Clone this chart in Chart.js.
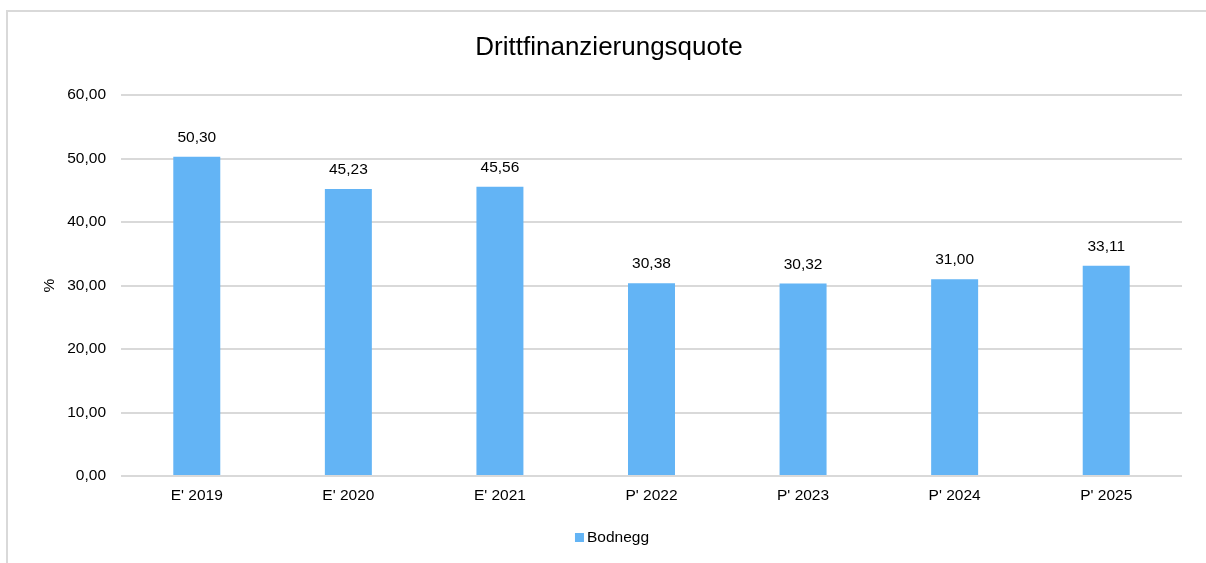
<!DOCTYPE html>
<html>
<head>
<meta charset="utf-8">
<script src="https://cdn.jsdelivr.net/npm/chart.js@4.4.1/dist/chart.umd.min.js"></script>
<style>
  html, body { margin: 0; padding: 0; background: #ffffff; overflow: hidden; }
  #wrap { position: relative; width: 1206px; height: 563px; }
</style>
</head>
<body>
<div id="wrap"><canvas id="chart" width="1206" height="563"></canvas></div>
<script>
// Chart content
const chartTitle = 'Drittfinanzierungsquote';
const yAxisTitle = '%';
const categories = ["E' 2019", "E' 2020", "E' 2021", "P' 2022", "P' 2023", "P' 2024", "P' 2025"];
const seriesName = 'Bodnegg';
const bodneggValues = [50.30, 45.23, 45.56, 30.38, 30.32, 31.00, 33.11];
const yTickValues = [0, 10, 20, 30, 40, 50, 60];

const FONT = "'Liberation Sans', Arial, Helvetica, sans-serif";
const BAR_COLOR = '#63b4f5';
const GRID_COLOR = '#d9d9d9';
const TEXT_COLOR = '#000000';

// German number format with two decimals: 50.3 -> "50,30"
const fmt = v => Number(v).toFixed(2).replace('.', ',');

// Light frame around the whole chart
const framePlugin = {
  id: 'frame',
  beforeDraw(chart) {
    const ctx = chart.ctx;
    ctx.save();
    ctx.strokeStyle = GRID_COLOR;
    ctx.lineWidth = 2;
    ctx.beginPath();
    ctx.moveTo(7, chart.height + 5);
    ctx.lineTo(7, 11);
    ctx.lineTo(chart.width + 5, 11);
    ctx.stroke();
    ctx.restore();
  }
};

// Value labels above every bar
const valueLabelPlugin = {
  id: 'valueLabels',
  afterDatasetsDraw(chart) {
    const ctx = chart.ctx;
    ctx.save();
    ctx.font = '15.5px ' + FONT;
    ctx.fillStyle = TEXT_COLOR;
    ctx.textAlign = 'center';
    ctx.textBaseline = 'alphabetic';
    chart.data.datasets.forEach((ds, di) => {
      chart.getDatasetMeta(di).data.forEach((bar, i) => {
        ctx.fillText(fmt(ds.data[i]), bar.x, bar.y - 15);
      });
    });
    ctx.restore();
  }
};

// Legend centred below the axis: small square marker followed by the series name
const legendPlugin = {
  id: 'bottomLegend',
  afterDraw(chart) {
    const ctx = chart.ctx;
    ctx.save();
    ctx.font = '15.5px ' + FONT;
    const box = 9, gap = 3;
    const baseline = 542;
    chart.data.datasets.forEach(ds => {
      const tw = ctx.measureText(ds.label).width;
      const total = box + gap + tw;
      const x0 = 612 - total / 2;
      ctx.fillStyle = ds.backgroundColor;
      ctx.fillRect(x0, baseline - box, box, box);
      ctx.fillStyle = TEXT_COLOR;
      ctx.textAlign = 'left';
      ctx.textBaseline = 'alphabetic';
      ctx.fillText(ds.label, x0 + box + gap, baseline);
    });
    ctx.restore();
  }
};

new Chart(document.getElementById('chart'), {
  type: 'bar',
  data: {
    labels: categories,
    datasets: [{
      label: seriesName,
      data: bodneggValues,
      backgroundColor: BAR_COLOR,
      borderWidth: 0,
      categoryPercentage: 1.0,
      barPercentage: 0.31
    }]
  },
  options: {
    responsive: false,
    animation: false,
    devicePixelRatio: 1,
    layout: { padding: { top: 0, left: 36, right: 24, bottom: 0 } },
    plugins: {
      legend: { display: false },
      tooltip: { enabled: false },
      title: {
        display: true,
        text: chartTitle,
        color: TEXT_COLOR,
        font: { family: FONT, size: 26, weight: 'normal' },
        padding: { top: 32, bottom: 32 }
      }
    },
    scales: {
      x: {
        grid: { display: false, drawTicks: false },
        border: { display: false },
        ticks: {
          color: TEXT_COLOR,
          font: { family: FONT, size: 15.5 },
          padding: 10,
          maxRotation: 0
        },
        afterFit(scale) { scale.height = 87; }
      },
      y: {
        min: 0,
        max: 60,
        afterBuildTicks(scale) { scale.ticks = yTickValues.map(v => ({ value: v })); },
        grid: { color: GRID_COLOR, lineWidth: 2, drawTicks: false },
        border: { display: false },
        ticks: {
          color: TEXT_COLOR,
          font: { family: FONT, size: 15.5 },
          padding: 15,
          callback: v => fmt(v)
        },
        title: {
          display: true,
          text: yAxisTitle,
          color: TEXT_COLOR,
          font: { family: FONT, size: 15.5 },
          padding: { top: 4, bottom: 0 }
        },
        afterFit(scale) { scale.width = 85; }
      }
    }
  },
  plugins: [framePlugin, valueLabelPlugin, legendPlugin]
});
</script>
</body>
</html>
